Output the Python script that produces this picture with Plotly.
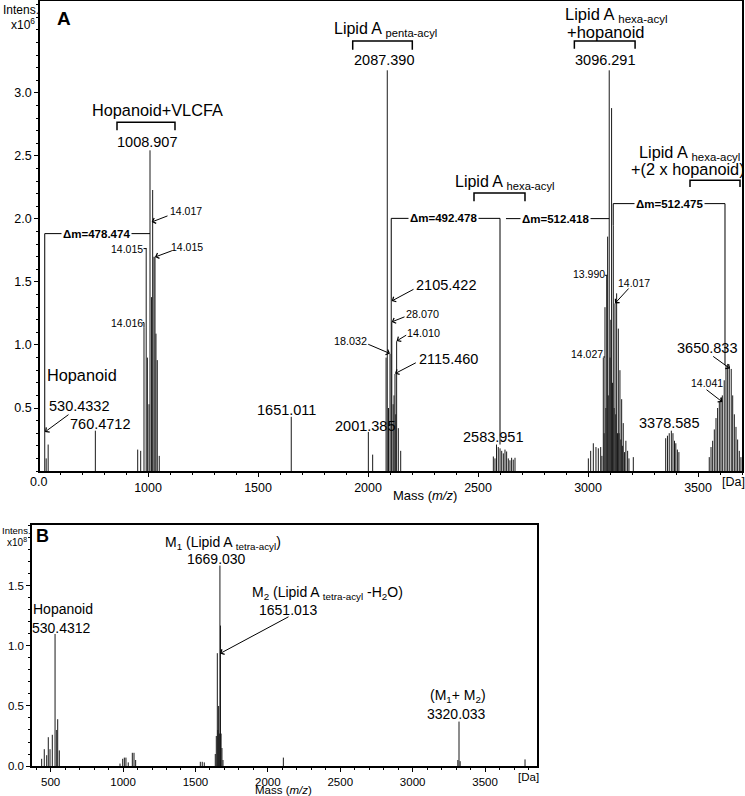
import plotly.graph_objects as go

W, H = 745, 796
FONT = "Liberation Sans, Arial, Helvetica, sans-serif"

# ---------------- Panel A data (m/z, intensity x10^6) ----------------
a_hop_mz = [530.43, 537, 546]
a_hop_int = [0.31, 0.10, 0.21]
a_760_mz = [760.47]
a_760_int = [0.32]
a_vlcfa_mz = [953, 966.6, 981.6, 991.6, 997, 1004.4, 1008.91, 1016, 1021, 1027, 1031.6, 1036, 1042, 1051]
a_vlcfa_int = [0.17, 0.16, 1.14, 1.77, 0.90, 0.53, 2.545, 1.38, 2.23, 1.70, 1.70, 1.09, 0.88, 0.12]
a_1651_mz = [1651.01]
a_1651_int = [0.43]
a_2001_mz = [2001.39, 2021]
a_2001_int = [0.31, 0.13]
a_penta_mz = [2082, 2087.39, 2093, 2099.8, 2105.42, 2108, 2114, 2118, 2122.5, 2126, 2130, 2137.6, 2148.4]
a_penta_int = [0.9, 3.18, 0.5, 0.93, 1.35, 1.18, 0.53, 0.6, 0.77, 0.45, 1.03, 0.34, 0.16]
a_hexa_mz = [2569.5, 2577, 2583.95, 2592, 2600, 2607.5, 2615, 2622.5, 2630, 2637.5, 2645, 2652.6, 2660, 2668]
a_hexa_int = [0.115, 0.10, 0.21, 0.19, 0.18, 0.16, 0.14, 0.17, 0.155, 0.10, 0.085, 0.105, 0.09, 0.105]
a_hexahop_mz = [3001.4, 3012, 3024, 3036, 3046.7, 3057.5, 3063, 3069.4, 3073, 3077, 3081, 3084.8, 3089, 3092,
                3096.29, 3100, 3103.5, 3107, 3111, 3114.8, 3118.5, 3122.5, 3126, 3130, 3134, 3137.6, 3141,
                3145, 3149, 3152.8, 3156, 3160, 3166, 3172, 3180, 3186, 3205.7]
a_hexahop_int = [0.10, 0.16, 0.22, 0.19, 0.18, 0.19, 0.12, 0.90, 0.30, 1.30, 0.50, 1.55, 1.86, 0.60,
                 3.18, 0.90, 1.20, 2.88, 0.70, 1.95, 0.50, 1.33, 0.45, 1.41, 0.30, 1.13, 0.30,
                 0.80, 0.25, 0.57, 0.20, 0.38, 0.15, 0.24, 0.16, 0.10, 0.11]
a_3378_mz = [3353, 3361, 3369, 3378.59, 3386, 3393, 3399, 3406, 3413]
a_3378_int = [0.26, 0.28, 0.30, 0.32, 0.30, 0.24, 0.22, 0.17, 0.15]
a_3650_mz = [3551, 3559, 3566.5, 3574, 3581.6, 3589, 3596.7, 3604, 3610.4, 3619, 3627, 3634.6, 3642,
             3650.83, 3657.5, 3665, 3672.5, 3680, 3687.5, 3695]
a_3650_int = [0.11, 0.19, 0.24, 0.33, 0.42, 0.50, 0.55, 0.58, 0.60, 0.72, 0.84, 0.85, 0.83,
              0.81, 0.60, 0.45, 0.35, 0.25, 0.16, 0.11]

# ---------------- Panel B data (m/z, intensity x10^8) ----------------
b_hop_mz = [438, 456, 472.7, 483.7, 495.5, 511.4, 530.43, 541.7, 548.6, 559.7]
b_hop_int = [0.06, 0.14, 0.09, 0.24, 0.14, 0.26, 1.10, 0.30, 0.39, 0.13]
b_1000_mz = [979, 997.5, 1008.8, 1020, 1036, 1064, 1075.6, 1087]
b_1000_int = [0.02, 0.06, 0.07, 0.07, 0.03, 0.11, 0.11, 0.05]
b_1550_mz = [1533.6, 1547, 1561]
b_1550_int = [0.035, 0.035, 0.03]
b_tetra_mz = [1637, 1644, 1651.01, 1655, 1660, 1665, 1669.03, 1673, 1677, 1683, 1690]
b_tetra_int = [0.10, 0.25, 0.94, 0.30, 0.50, 0.27, 1.67, 1.17, 0.27, 0.15, 0.05]
b_2107_mz = [2107]
b_2107_int = [0.07]
b_dimer_mz = [3312, 3320.03, 3328]
b_dimer_int = [0.05, 0.37, 0.04]
b_3776_mz = [3776]
b_3776_int = [0.055]

a_xticks = [1000, 1500, 2000, 2500, 3000, 3500]
a_yticks = [0.5, 1.0, 1.5, 2.0, 2.5, 3.0]
b_xticks = [500, 1000, 1500, 2000, 2500, 3000, 3500]
b_yticks = [0.0, 0.5, 1.0, 1.5]

A_MZ = a_hop_mz + a_760_mz + a_vlcfa_mz + a_1651_mz + a_2001_mz + a_penta_mz + a_hexa_mz + a_hexahop_mz + a_3378_mz + a_3650_mz
A_INT = a_hop_int + a_760_int + a_vlcfa_int + a_1651_int + a_2001_int + a_penta_int + a_hexa_int + a_hexahop_int + a_3378_int + a_3650_int
B_MZ = b_hop_mz + b_1000_mz + b_1550_mz + b_tetra_mz + b_2107_mz + b_dimer_mz + b_3776_mz
B_INT = b_hop_int + b_1000_int + b_1550_int + b_tetra_int + b_2107_int + b_dimer_int + b_3776_int


def sticks(mz, it):
    xs, ys = [], []
    for m, v in zip(mz, it):
        xs += [m, m, None]
        ys += [0, v, None]
    return xs, ys


fig = go.Figure()
xa, ya = sticks(A_MZ, A_INT)
fig.add_trace(go.Scatter(x=xa, y=ya, mode="lines", line=dict(color="#1a1a1a", width=1),
                         xaxis="x", yaxis="y", hoverinfo="skip", showlegend=False))
xb, yb = sticks(B_MZ, B_INT)
fig.add_trace(go.Scatter(x=xb, y=yb, mode="lines", line=dict(color="#1a1a1a", width=1),
                         xaxis="x2", yaxis="y2", hoverinfo="skip", showlegend=False))

shapes = []
ann = []


def line(x0, y0, x1, y1, xr="x", yr="y", w=1, color="black"):
    shapes.append(dict(type="line", x0=x0, y0=y0, x1=x1, y1=y1, xref=xr, yref=yr,
                       line=dict(color=color, width=w)))


def bracket(xl, xr_, ytop, ybot):
    shapes.append(dict(type="path", xref="x", yref="y",
                       path=f"M{xl},{ybot} L{xl},{ytop} L{xr_},{ytop} L{xr_},{ybot}",
                       line=dict(color="black", width=1.5)))


def text(t, x, y, size, xr="x", yr="y", bold=False, xanchor="center", bg=None):
    d = dict(text=f"<b>{t}</b>" if bold else t, x=x, y=y, xref=xr, yref=yr, showarrow=False,
             xanchor=xanchor, yanchor="middle", font=dict(size=size, color="black", family=FONT))
    if bg:
        d["bgcolor"] = bg
        d["borderpad"] = 1
    ann.append(d)


def arrow(tipx, tipy, tailx, taily, xr="x", yr="y"):
    ann.append(dict(text="", x=tipx, y=tipy, ax=tailx, ay=taily, xref=xr, yref=yr,
                    axref=xr, ayref=yr, showarrow=True, arrowhead=4, arrowsize=1.1,
                    arrowwidth=1, arrowcolor="black", standoff=0, startstandoff=0))


# ---- Panel A group brackets ----
bracket(858.9, 1122.5, 2.767, 2.704)
bracket(1930.3, 2201.2, 3.413, 3.344)
bracket(2481.6, 2713.4, 2.206, 2.140)
bracket(2937.8, 3213.8, 3.413, 3.352)
bracket(3463.5, 3690.7, 2.307, 2.254)

# ---- Δm bars ----
line(530.43, 1.884, 1008.91, 1.884)
line(530.43, 1.884, 530.43, 0.31)
text("Δm=478.474", 766.6, 1.884, 11.5, bold=True, bg="white")

line(2105.42, 2.005, 2599.8, 2.005)
line(2105.42, 2.005, 2105.42, 1.35)
line(2599.8, 2.005, 2599.8, 0.21)
text("Δm=492.478", 2342, 2.005, 11.5, bold=True, bg="white")

line(2627, 2.003, 3096.29, 2.003)
text("Δm=512.418", 2854, 2.003, 11.5, bold=True, bg="white")

line(3114.5, 2.122, 3622.5, 2.122)
line(3114.5, 2.122, 3114.5, 1.95)
line(3622.5, 2.122, 3622.5, 0.84)
text("Δm=512.475", 3372.5, 2.122, 11.5, bold=True, bg="white")

# ---- label connector ticks ----
line(979.4, 1.765, 991.6, 1.765)
line(974.8, 1.178, 981.6, 1.178)
line(981.6, 1.178, 981.6, 1.14)
line(3077.2, 1.553, 3087.7, 1.553)
line(3069.4, 0.905, 3077.0, 0.905)

# ---- Panel A texts ----
text("Hopanoid+VLCFA", 1045, 2.863, 16.3)
text("1008.907", 995.3, 2.607, 14.5)
text("Lipid A <sub>penta-acyl</sub>", 2079.4, 3.50, 16)
text("2087.390", 2071.6, 3.259, 14.5)
text("Lipid A <sub>hexa-acyl</sub>", 2623.8, 2.29, 16)
text("Lipid A <sub>hexa-acyl</sub>", 3130, 3.615, 16.5)
text("+hopanoid", 3081, 3.48, 16.5)
text("3096.291", 3077, 3.259, 14.5)
text("Lipid A <sub>hexa-acyl</sub>", 3462, 2.52, 16.3)
text("+(2 x hopanoid)", 3455, 2.395, 16.3)

text("14.017", 1171.2, 2.063, 10.5)
arrow(1016.6, 1.976, 1095.3, 2.029)
text("14.015", 906.6, 1.765, 10.5)
text("14.015", 1175.7, 1.778, 10.5)
arrow(1031.6, 1.698, 1114.8, 1.752)
text("14.016", 906.6, 1.178, 10.5)
text("Hopanoid", 701.2, 0.76, 16.3)
text("530.4332", 687, 0.516, 14.5)
arrow(531.6, 0.31, 645.3, 0.456)
text("760.4712", 780.3, 0.371, 14.5)
text("1651.011", 1631.6, 0.487, 14.5)
text("2001.385", 1984.8, 0.357, 14.5)
text("2105.422", 2356, 1.474, 14.5)
arrow(2107.5, 1.349, 2213.5, 1.448)
text("28.070", 2248.5, 1.244, 10.8)
arrow(2107.5, 1.183, 2172.5, 1.228)
text("14.010", 2252, 1.098, 10.8)
arrow(2130, 1.032, 2180.3, 1.085)
text("18.032", 1920.3, 1.032, 10.8)
arrow(2099.8, 0.932, 1993.9, 1.011)
text("2115.460", 2363.5, 0.892, 14.5)
arrow(2122.5, 0.773, 2224, 0.865)
text("2583.951", 2568, 0.27, 14.5)
text("13.990", 3003.5, 1.567, 10.5)
text("14.017", 3211, 1.495, 10.5)
arrow(3122.5, 1.33, 3190.7, 1.46)
text("14.027", 2997.5, 0.926, 10.5)
text("3378.585", 3366.5, 0.381, 14.5)
text("3650.833", 3540.7, 0.976, 14.5)
arrow(3645.2, 0.813, 3562, 0.918)
text("14.041", 3542.9, 0.698, 10.5)
arrow(3610.4, 0.548, 3531.8, 0.654)

# paper-positioned texts (pixel -> paper)
def ptext(t, px, py, size, bold=False):
    text(t, px / W, (H - py) / H, size, xr="paper", yr="paper", bold=bold)

ptext("A", 64, 18, 19, bold=True)
ptext("Intens.", 21, 10, 12)
ptext("x10<sup>6</sup>", 23, 24, 12)
ptext("0.0", 38, 482, 12.5)
ptext("Mass (<i>m/z</i>)", 425, 495, 13)
ptext("[Da]", 733, 482, 12.5)

# ---- Panel B texts ----
def btext(t, x, y, size):
    text(t, x, y, size, xr="x2", yr="y2")

ptext("B", 42, 536, 18, bold=True)
ptext("Intens.", 16, 530, 9.5)
ptext("x10<sup>8</sup>", 17, 542, 10)
btext("Hopanoid", 585.2, 1.312, 14)
btext("530.4312", 572.8, 1.153, 14)
btext("M<sub>1</sub> (Lipid A <sub>tetra-acyl</sub>)", 1692.4, 1.86, 14)
btext("1669.030", 1646.7, 1.728, 14)
btext("M<sub>2</sub> (Lipid A <sub>tetra-acyl</sub> -H<sub>2</sub>O)", 2411.9, 1.44, 14)
btext("1651.013", 2144.6, 1.297, 14)
arrow(1669.5, 0.937, 2152.9, 1.25, xr="x2", yr="y2")
btext("(M<sub>1</sub>+ M<sub>2</sub>)", 3309.7, 0.58, 14)
btext("3320.033", 3301.4, 0.437, 14)
ptext("Mass (<i>m/z</i>)", 283, 790, 11.5)
ptext("[Da]", 528, 777, 11.5)

axis_common = dict(showline=True, linecolor="black", linewidth=1.5, mirror=True,
                   showgrid=False, zeroline=False, ticks="outside", ticklen=4,
                   tickwidth=1, tickcolor="black", automargin=False)

fig.update_layout(
    width=W, height=H, margin=dict(l=0, r=0, t=0, b=0, autoexpand=False),
    paper_bgcolor="white", plot_bgcolor="white",
    font=dict(family=FONT, color="black"),
    showlegend=False,
    xaxis=dict(domain=[40 / W, 742 / W], range=[508.9, 3699.8], anchor="y",
               tickmode="array", tickvals=a_xticks, ticktext=[str(v) for v in a_xticks],
               tickfont=dict(size=12.5),
               minor=dict(tickmode="linear", tick0=0, dtick=100, ticks="outside", ticklen=2,
                          tickcolor="black"),
               **axis_common),
    yaxis=dict(domain=[325 / H, 795 / H], range=[0, 3.73], anchor="x",
               tickmode="array", tickvals=a_yticks, ticktext=[f"{v:.1f}" for v in a_yticks],
               tickfont=dict(size=12.5),
               minor=dict(tickmode="linear", tick0=0, dtick=0.1, ticks="outside", ticklen=2,
                          tickcolor="black"),
               **axis_common),
    xaxis2=dict(domain=[32 / W, 537 / W], range=[371.2, 3858.7], anchor="y2",
                tickmode="array", tickvals=b_xticks, ticktext=[str(v) for v in b_xticks],
                tickfont=dict(size=11.5),
                minor=dict(tickmode="linear", tick0=0, dtick=100, ticks="outside", ticklen=2,
                           tickcolor="black"),
                **axis_common),
    yaxis2=dict(domain=[30 / H, 271 / H], range=[0, 2.008], anchor="x2",
                tickmode="array", tickvals=b_yticks, ticktext=[f"{v:.1f}" for v in b_yticks],
                tickfont=dict(size=11.5),
                minor=dict(tickmode="linear", tick0=0, dtick=0.1, ticks="outside", ticklen=2,
                           tickcolor="black"),
                **axis_common),
    shapes=shapes,
    annotations=ann,
)

fig.write_html("out.html", config={"displayModeBar": False},
               post_script="document.body.style.margin='0';document.body.style.overflow='hidden';")
